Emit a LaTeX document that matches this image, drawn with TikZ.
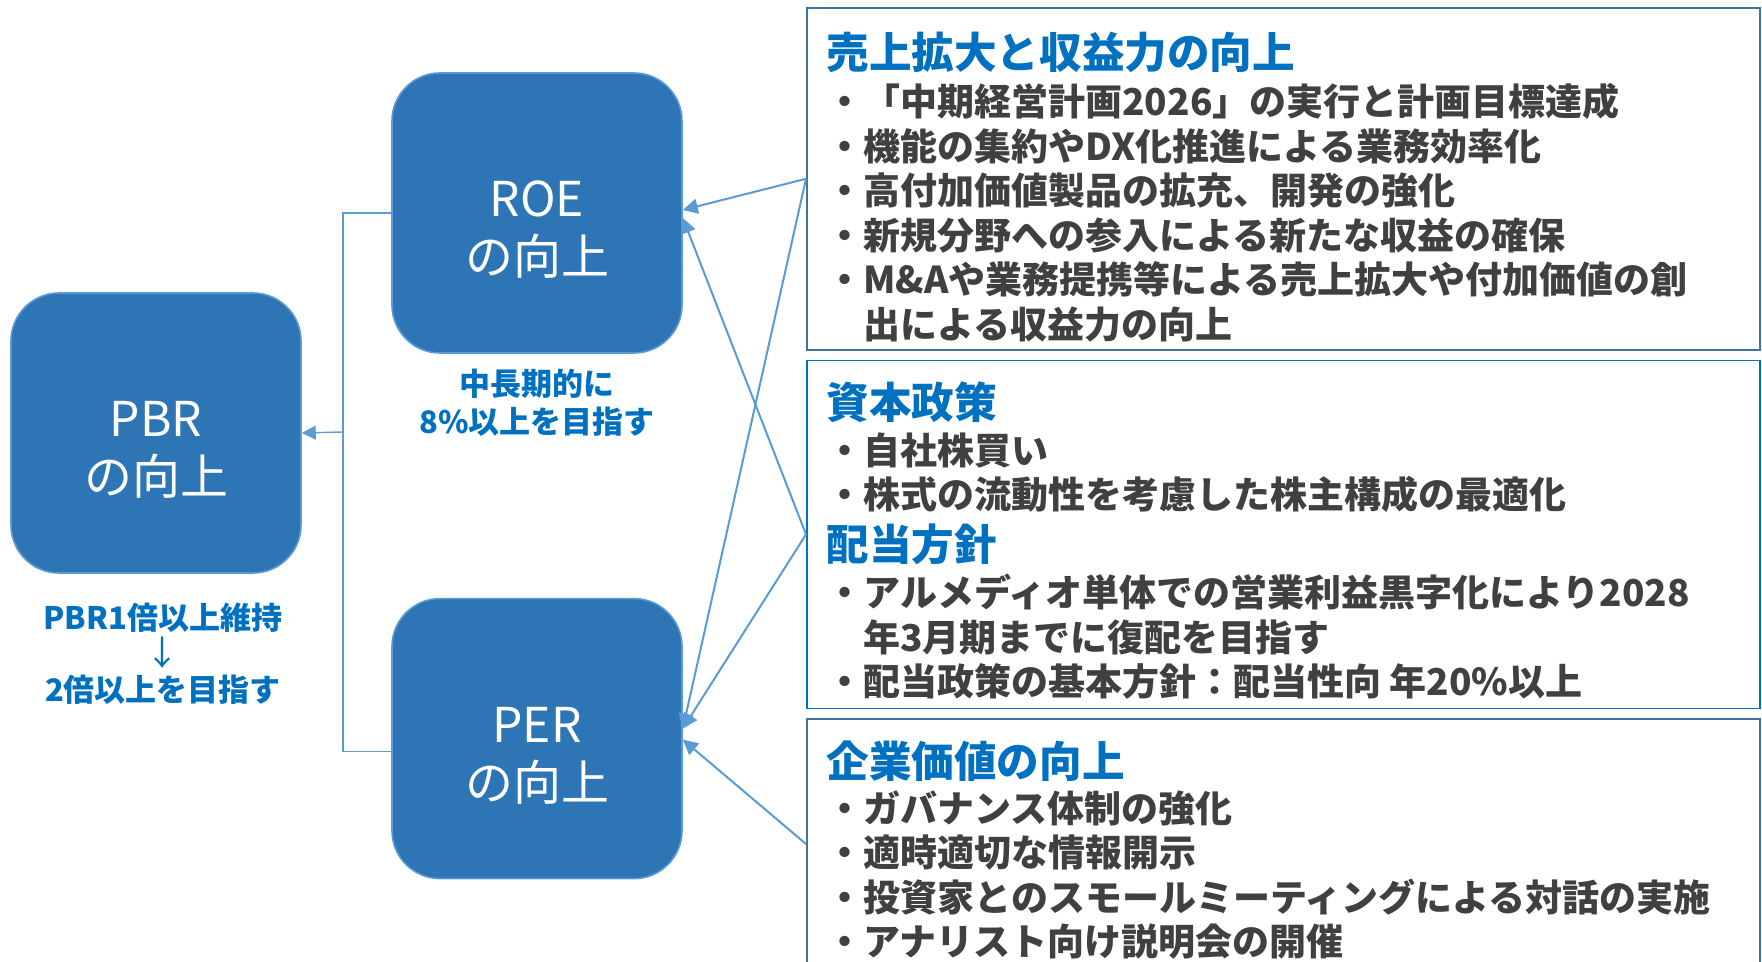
\documentclass[tikz,border=0pt]{standalone}
\usepackage{fontspec}
\setmainfont{Noto Sans CJK JP}
\usepackage{xcolor}
\usepackage{tikz}
\usetikzlibrary{arrows.meta,positioning}
\definecolor{goalfill}{HTML}{2E75B6}
\definecolor{linkblue}{HTML}{5B9BD5}
\definecolor{headblue}{HTML}{0070C0}
\definecolor{textgray}{HTML}{404040}
\definecolor{framegray}{HTML}{41719C}
\tikzstyle{goal} = [rectangle, rounded corners=24pt, fill=goalfill, draw=linkblue, line width=0.8pt, minimum width=145pt, minimum height=140pt]
\tikzstyle{goaltxt} = [text=white, align=center, inner sep=0pt, font=\fontsize{24}{29}\selectfont]
\tikzstyle{note} = [text=headblue, align=center, font=\bfseries\fontsize{15.5}{19}\selectfont]
\tikzstyle{panel} = [rectangle, draw=framegray, line width=0.8pt, minimum width=476.5pt, inner sep=0pt]
\tikzstyle{head} = [anchor=west, inner sep=0pt, text=headblue, font=\bfseries\fontsize{21.3}{26}\selectfont]
\tikzstyle{list} = [anchor=north west, align=left, inner sep=0pt, text=textgray, font=\bfseries\fontsize{18.5}{22.25}\selectfont]
\tikzstyle{link} = [draw=linkblue, line width=0.7pt]
\tikzstyle{feed} = [draw=linkblue, line width=1pt, -{Triangle[length=7.5pt,width=7.5pt]}]

\begin{document}
\begin{tikzpicture}[x=0.5pt, y=-0.5pt]
	\useasboundingbox (0,0) rectangle (1762,962);
	% left side
	\node[goal] (pbr) at (156,433) {};
	\node[goal] (roe) at (537,213) {};
	\node[goal] (per) [below=122pt of roe] {};
	\node[goaltxt] (pbrtxt) at ([yshift=-8.5pt]pbr.center) {PBR\\の向上};
	\node[goaltxt] (roetxt) at ([yshift=-8.5pt]roe.center) {ROE\\の向上};
	\node[goaltxt] (pertxt) at ([yshift=-8.5pt]per.center) {PER\\の向上};
	\node[note] (roenote) [below=4pt of roe] {中長期的に\\8\%以上を目指す};
	\node[note, xshift=3.5pt, font=\bfseries\fontsize{15.5}{18}\selectfont] (pbrnote) [below=11pt of pbr] {PBR1倍以上維持\\{\mdseries\fontsize{17}{18}\selectfont ↓}\\2倍以上を目指す};
	\coordinate (fork) at (343,432);
	\draw[link] (roe.west) -| (fork) |- ([yshift=-6.5pt]per.west);
	\draw[link, -{Triangle[length=7pt,width=7pt]}] (fork) -- (pbr.east);
	% right side panels
	\node[panel, anchor=north west, minimum height=171pt] (sales) at (806,7) {};
	\node[panel, draw=headblue, minimum height=174pt] (capital) [below=4.5pt of sales] {};
	\node[panel, minimum height=125pt] (value) [below=4.5pt of capital] {};
	\node[head] (h1) at (826,52) {売上拡大と収益力の向上};
	\node[list] (l1) at (826,83) {・「中期経営計画2026」の実行と計画目標達成\\
		・機能の集約やDX化推進による業務効率化\\
		・高付加価値製品の拡充、開発の強化\\
		・新規分野への参入による新たな収益の確保\\
		・M\&Aや業務提携等による売上拡大や付加価値の創\\
		　出による収益力の向上};
	\node[head] (h2) at (826,402) {資本政策};
	\node[list] (l2) at (826,432) {・自社株買い\\
		・株式の流動性を考慮した株主構成の最適化};
	\node[head] (h3) at (826,544) {配当方針};
	\node[list] (l3) at (826,574) {・アルメディオ単体での営業利益黒字化により2028\\
		　年3月期までに復配を目指す\\
		・配当政策の基本方針：配当性向 年20\%以上};
	\node[head] (h4) at (826,761) {企業価値の向上};
	\node[list] (l4) at (826,790) {・ガバナンス体制の強化\\
		・適時適切な情報開示\\
		・投資家とのスモールミーティングによる対話の実施\\
		・アナリスト向け説明会の開催};
	% feeds into ROE / PER
	\draw[feed] (sales.west) -- ([yshift=1.5pt]roe.east);
	\draw[feed] (sales.west) -- ([yshift=5pt]per.east);
	\draw[feed] (capital.west) -- ([yshift=-2.5pt]roe.east);
	\draw[feed] (capital.west) -- ([yshift=5pt]per.east);
	\draw[feed] (value.west) -- ([yshift=-0.5pt]per.east);
\end{tikzpicture}
\end{document}
